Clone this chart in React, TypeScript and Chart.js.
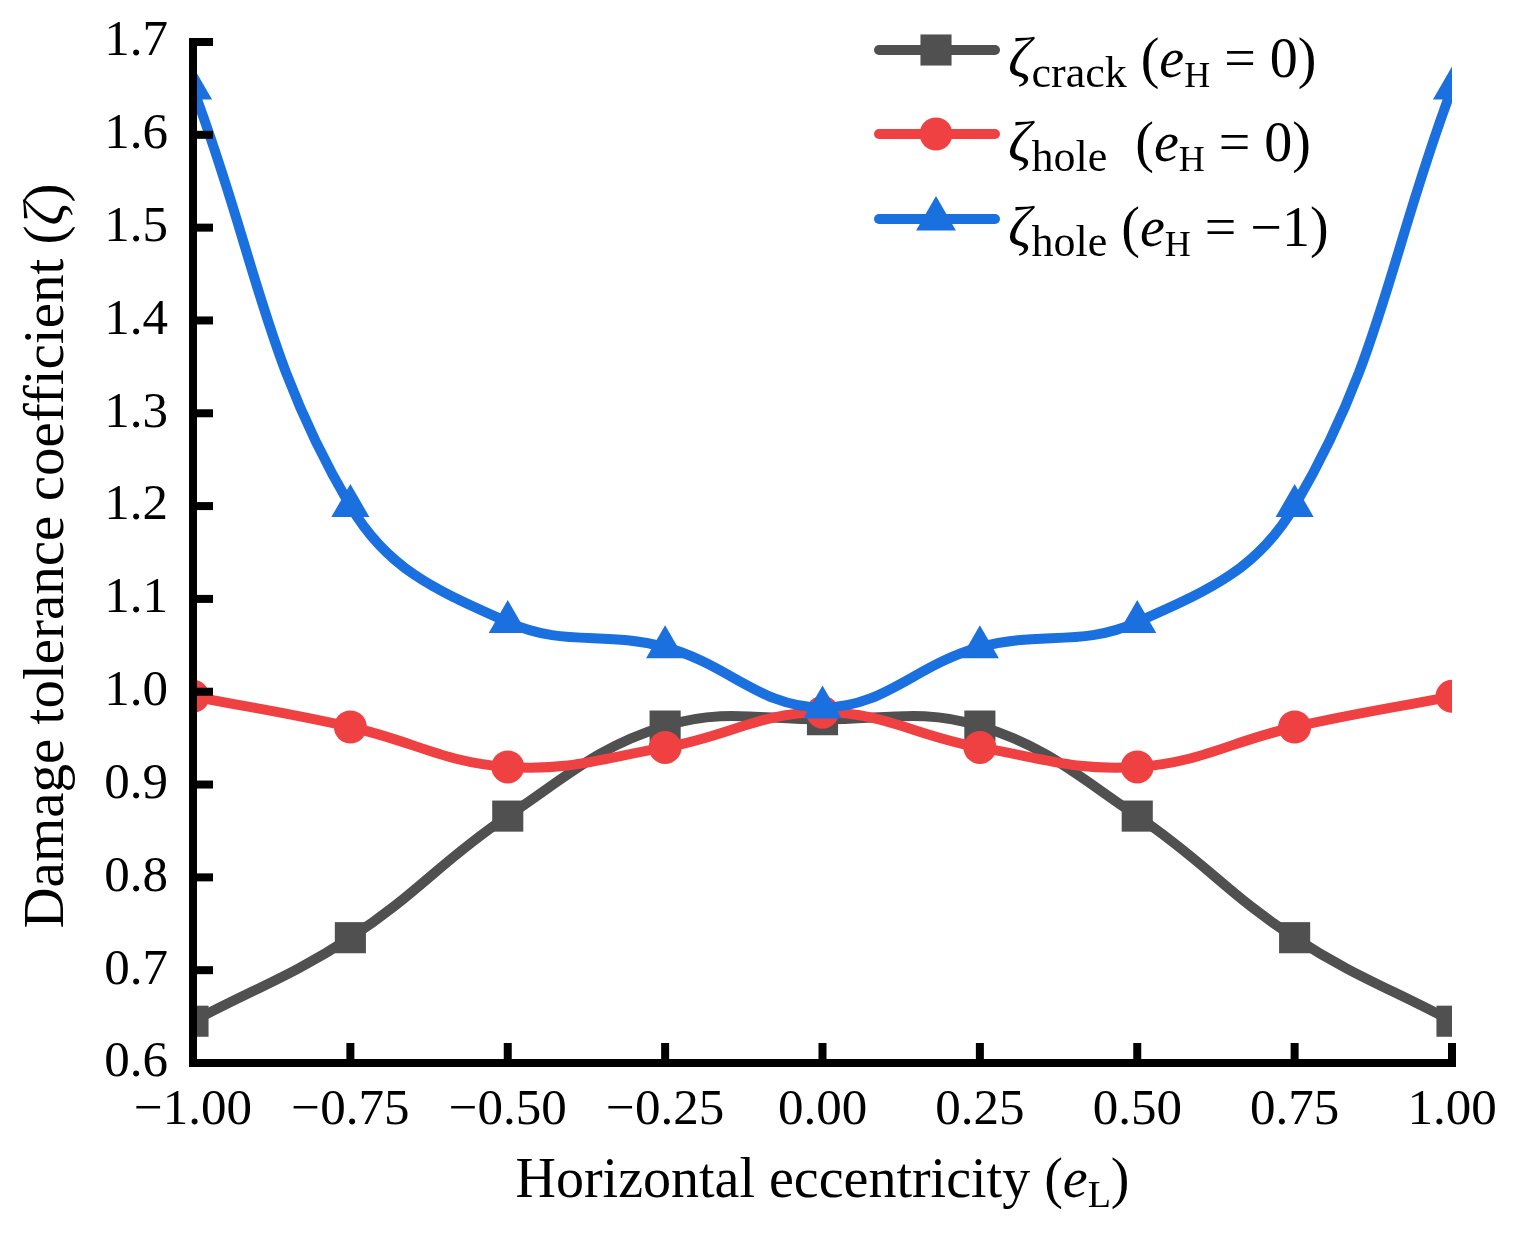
import React, { useEffect, useRef } from 'react';
import { Chart, registerables } from 'chart.js';

Chart.register(...registerables);

// ---- data ----
const xValues = [-1, -0.75, -0.5, -0.25, 0, 0.25, 0.5, 0.75, 1];
const crackE0 = [0.645, 0.735, 0.866, 0.963, 0.970, 0.963, 0.866, 0.735, 0.645];
const holeE0 = [0.995, 0.962, 0.919, 0.940, 0.978, 0.940, 0.919, 0.962, 0.995];
const holeEm1 = [1.65, 1.2, 1.075, 1.048, 0.983, 1.048, 1.075, 1.2, 1.65];
const xTickValues = [-1, -0.75, -0.5, -0.25, 0, 0.25, 0.5, 0.75, 1];
const yTickValues = [0.6, 0.7, 0.8, 0.9, 1.0, 1.1, 1.2, 1.3, 1.4, 1.5, 1.6, 1.7];

const GRAY = 'rgb(80,80,80)';
const RED = 'rgb(239,64,66)';
const BLUE = 'rgb(26,112,222)';
const FONT = '"Liberation Serif", "Times New Roman", serif';

type Seg = { t: string; size: number; italic?: boolean; dy?: number };

function drawRich(ctx: CanvasRenderingContext2D, x: number, y: number, segs: Seg[], align: 'left' | 'center') {
  const widths = segs.map((s) => {
    ctx.font = `${s.italic ? 'italic ' : ''}${s.size}px ${FONT}`;
    return ctx.measureText(s.t).width;
  });
  const total = widths.reduce((a, b) => a + b, 0);
  let cx = align === 'center' ? x - total / 2 : x;
  ctx.textBaseline = 'alphabetic';
  ctx.textAlign = 'left';
  segs.forEach((s, i) => {
    ctx.font = `${s.italic ? 'italic ' : ''}${s.size}px ${FONT}`;
    ctx.fillText(s.t, cx, y + (s.dy || 0));
    cx += widths[i];
  });
}

function drawMarker(ctx: CanvasRenderingContext2D, style: string, x: number, y: number, r: number) {
  ctx.beginPath();
  if (style === 'rect') {
    const s = Math.SQRT1_2 * r;
    ctx.rect(x - s, y - s, 2 * s, 2 * s);
  } else if (style === 'circle') {
    ctx.arc(x, y, r, 0, Math.PI * 2);
  } else {
    ctx.moveTo(x, y - r);
    ctx.lineTo(x + 0.866 * r, y + 0.5 * r);
    ctx.lineTo(x - 0.866 * r, y + 0.5 * r);
    ctx.closePath();
  }
  ctx.fill();
}

const decorPlugin = {
  id: 'decor',
  afterDatasetsDraw(chart: any) {
    const ctx: CanvasRenderingContext2D = chart.ctx;
    const { left, right, top, bottom } = chart.chartArea;
    const xs = chart.scales.x;
    const ys = chart.scales.y;
    ctx.save();
    // axes
    ctx.strokeStyle = '#000';
    ctx.lineWidth = 8;
    ctx.lineJoin = 'miter';
    ctx.lineCap = 'butt';
    ctx.beginPath();
    ctx.moveTo(left, top - 4);
    ctx.lineTo(left, bottom);
    ctx.lineTo(right + 4, bottom);
    ctx.stroke();
    ctx.fillStyle = '#000';
    yTickValues.forEach((v) => {
      const py = ys.getPixelForValue(v);
      ctx.fillRect(left, py - 4, 20, 8);
    });
    xTickValues.forEach((v) => {
      const px = xs.getPixelForValue(v);
      ctx.fillRect(px - 4, bottom - 20, 8, 20);
    });

    // axis titles
    ctx.fillStyle = '#000';
    drawRich(ctx, (left + right) / 2, 1197, [
      { t: 'Horizontal eccentricity (', size: 56 },
      { t: 'e', size: 56, italic: true },
      { t: 'L', size: 38, dy: 10 },
      { t: ')', size: 56 },
    ], 'center');

    ctx.save();
    ctx.translate(63, 556);
    ctx.rotate(-Math.PI / 2);
    drawRich(ctx, 0, 0, [
      { t: 'Damage tolerance coefficient (', size: 57 },
      { t: 'ζ', size: 57, italic: true },
      { t: ')', size: 57 },
    ], 'center');
    ctx.restore();

    // legend
    const rows = [
      { color: GRAY, style: 'rect', r: 22, y: 50, sub: 'crack', gap: ' (', val: '0)' },
      { color: RED, style: 'circle', r: 16.5, y: 134, sub: 'hole', gap: '  (', val: '0)' },
      { color: BLUE, style: 'triangle', r: 23, y: 219, sub: 'hole', gap: ' (', val: '−1)' },
    ];
    rows.forEach((row) => {
      ctx.strokeStyle = row.color;
      ctx.fillStyle = row.color;
      ctx.lineWidth = 10;
      ctx.lineCap = 'round';
      ctx.beginPath();
      ctx.moveTo(879, row.y);
      ctx.lineTo(995, row.y);
      ctx.stroke();
      drawMarker(ctx, row.style, 936, row.y, row.r);
      ctx.fillStyle = '#000';
      drawRich(ctx, 1008, row.y + 27, [
        { t: 'ζ', size: 58, italic: true },
        { t: row.sub, size: 44, dy: 10 },
        { t: row.gap, size: 56 },
        { t: 'e', size: 56, italic: true },
        { t: 'H', size: 36, dy: 10 },
        { t: ' = ' + row.val, size: 56 },
      ], 'left');
    });
    ctx.restore();
  },
};

export default function App() {
  const canvasRef = useRef<HTMLCanvasElement | null>(null);

  useEffect(() => {
    if (!canvasRef.current) return;
    const mk = (d: number[]) => xValues.map((x, i) => ({ x, y: d[i] }));
    const chart = new Chart(canvasRef.current, {
      type: 'line',
      data: {
        datasets: [
          {
            label: 'crack',
            data: mk(crackE0),
            borderColor: GRAY,
            backgroundColor: GRAY,
            borderWidth: 10,
            pointStyle: 'rect',
            pointRadius: 22,
            pointBorderWidth: 0,
            tension: 0.4,
            order: 3,
            clip: 0,
          },
          {
            label: 'hole0',
            data: mk(holeE0),
            borderColor: RED,
            backgroundColor: RED,
            borderWidth: 10,
            pointStyle: 'circle',
            pointRadius: 16.5,
            pointBorderWidth: 0,
            tension: 0.4,
            order: 2,
            clip: 0,
          },
          {
            label: 'hole-1',
            data: mk(holeEm1),
            borderColor: BLUE,
            backgroundColor: BLUE,
            borderWidth: 10,
            pointStyle: 'triangle',
            pointRadius: 22,
            pointBorderWidth: 0,
            tension: 0.4,
            order: 1,
            clip: 0,
          },
        ],
      },
      options: {
        animation: false,
        responsive: false,
        devicePixelRatio: 1,
        layout: { padding: { top: 42, right: 61, left: 0, bottom: 0 } },
        plugins: { legend: { display: false }, tooltip: { enabled: false } },
        scales: {
          x: {
            type: 'linear',
            min: -1,
            max: 1,
            afterFit: (s: any) => {
              s.height = 1234 - 1063;
              s.paddingLeft = 0; s.paddingRight = 0; s.paddingTop = 0; s.paddingBottom = 0;
            },
            afterBuildTicks: (s: any) => { s.ticks = xTickValues.map((v) => ({ value: v })); },
            grid: { display: false, drawTicks: false },
            border: { display: false },
            ticks: {
              padding: 17,
              color: '#000',
              font: { family: FONT, size: 51 },
              maxRotation: 0,
              autoSkip: false,
              callback: (v: any) => Number(v).toFixed(2).replace('-', '−'),
            },
          },
          y: {
            type: 'linear',
            min: 0.6,
            max: 1.7,
            afterFit: (s: any) => {
              s.width = 193;
              s.paddingLeft = 0; s.paddingRight = 0; s.paddingTop = 0; s.paddingBottom = 0;
            },
            afterBuildTicks: (s: any) => { s.ticks = yTickValues.map((v) => ({ value: v })); },
            grid: { display: false, drawTicks: false },
            border: { display: false },
            ticks: {
              padding: 25,
              color: '#000',
              font: { family: FONT, size: 51 },
              autoSkip: false,
              callback: (v: any) => Number(v).toFixed(1),
            },
          },
        },
      },
      plugins: [decorPlugin],
    } as any);
    return () => chart.destroy();
  }, []);

  return (
    <div style={{ position: 'absolute', left: 0, top: 0, width: 1513, height: 1234, background: '#fff' }}>
      <canvas ref={canvasRef} width={1513} height={1234} style={{ width: 1513, height: 1234, display: 'block' }} />
    </div>
  );
}
